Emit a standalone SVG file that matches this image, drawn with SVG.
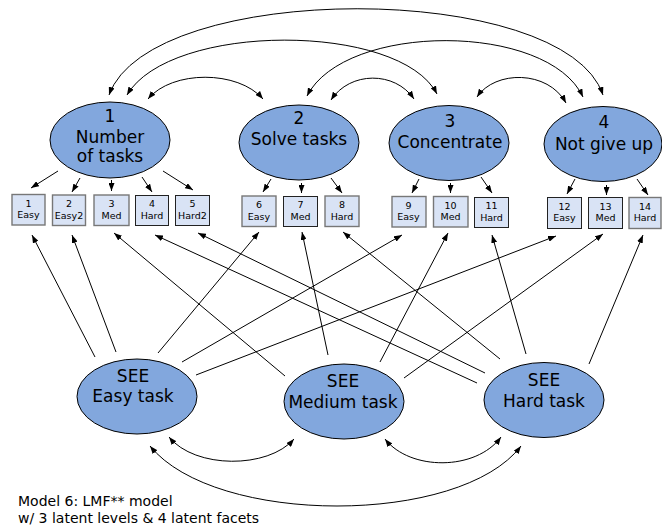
<svg xmlns="http://www.w3.org/2000/svg" width="662" height="529" viewBox="0 0 662 529">
<style>
.lat{fill:#82a7dd;stroke:#000;stroke-width:1}
.box{fill:#d9e3f5;stroke:#222;stroke-width:1}
.boxg{fill:#d9e3f5;stroke:#777;stroke-width:1.4}
.lt{font-family:"DejaVu Sans",sans-serif;font-size:17px;text-anchor:middle;fill:#000}
.bt{font-family:"DejaVu Sans",sans-serif;font-size:9.5px;text-anchor:middle;fill:#000}
.nt{font-family:"DejaVu Sans",sans-serif;font-size:14px;fill:#000}
.c{fill:none;stroke:#000;stroke-width:1}
.a{marker-end:url(#ah)}
.d{marker-start:url(#ahs);marker-end:url(#ah)}
</style>
<defs>
<marker id="ah" viewBox="0 0 8 6" refX="8" refY="3" markerWidth="8" markerHeight="6" markerUnits="userSpaceOnUse" orient="auto"><path d="M0,0 L8,3 L0,6 z" fill="#000"/></marker>
<marker id="ahs" viewBox="0 0 8 6" refX="8" refY="3" markerWidth="8" markerHeight="6" markerUnits="userSpaceOnUse" orient="auto-start-reverse"><path d="M0,0 L8,3 L0,6 z" fill="#000"/></marker>
</defs>

<g id="connectors">
<!-- covariances among facets -->
<path class="c d" d="M109,95 C150,-20 565,-20 603,95"/>
<path class="c d" d="M127,95 C170,22 400,22 437,94"/>
<path class="c d" d="M307,96 C345,22 548,22 583,97"/>
<path class="c d" d="M148,99 C172,70 238,70 263,99"/>
<path class="c d" d="M331,100 C350,71 395,71 414,99"/>
<path class="c d" d="M477,97 C495,70 548,70 566,103"/>
<!-- covariances among levels -->
<path class="c d" d="M169,437 C195,469 268,469 294,439"/>
<path class="c d" d="M385,439 C410,471 476,471 501,437"/>
<path class="c d" d="M150,446 C215,526 460,526 521,446"/>
<!-- facet loadings -->
<line class="c a" x1="58" y1="171" x2="31" y2="188"/>
<line class="c a" x1="80" y1="178" x2="72" y2="192"/>
<line class="c a" x1="111.5" y1="180" x2="111.5" y2="191"/>
<line class="c a" x1="142" y1="177" x2="152" y2="192"/>
<line class="c a" x1="163" y1="171" x2="193" y2="190"/>
<line class="c a" x1="271" y1="179" x2="263" y2="192"/>
<line class="c a" x1="301.5" y1="183" x2="301.5" y2="193"/>
<line class="c a" x1="331" y1="178" x2="342" y2="193"/>
<line class="c a" x1="419" y1="179" x2="412" y2="193"/>
<line class="c a" x1="450.5" y1="183" x2="450.5" y2="193"/>
<line class="c a" x1="481" y1="177" x2="492" y2="193"/>
<line class="c a" x1="575" y1="179" x2="567" y2="194"/>
<line class="c a" x1="606.5" y1="185" x2="606.5" y2="195"/>
<line class="c a" x1="637" y1="179" x2="648" y2="195"/>
<!-- level loadings -->
<line class="c a" x1="95" y1="357" x2="32" y2="235"/>
<line class="c a" x1="116" y1="352" x2="72" y2="235"/>
<line class="c a" x1="158" y1="353" x2="259" y2="232"/>
<line class="c a" x1="182" y1="362" x2="402" y2="235"/>
<line class="c a" x1="196" y1="375" x2="556" y2="236"/>
<line class="c a" x1="285" y1="376" x2="114" y2="233"/>
<line class="c a" x1="328" y1="355" x2="302" y2="232"/>
<line class="c a" x1="380" y1="362" x2="448" y2="233"/>
<line class="c a" x1="404" y1="378" x2="603" y2="234"/>
<line class="c a" x1="477" y1="383" x2="155" y2="235"/>
<line class="c a" x1="485" y1="373" x2="198" y2="233"/>
<line class="c a" x1="500" y1="359" x2="343" y2="232"/>
<line class="c a" x1="526" y1="354" x2="492" y2="235"/>
<line class="c a" x1="589" y1="364" x2="643" y2="235"/>
</g>

<g id="f1"><ellipse class="lat" cx="110" cy="140" rx="60" ry="38"/><text class="lt" x="110" y="121.5">1</text><text class="lt" x="110" y="142.5">Number</text><text class="lt" x="110" y="162">of tasks</text></g>
<g id="f2"><ellipse class="lat" cx="299" cy="142.5" rx="60" ry="37.5"/><text class="lt" x="299" y="124">2</text><text class="lt" x="299" y="145">Solve tasks</text></g>
<g id="f3"><ellipse class="lat" cx="449" cy="143" rx="60" ry="37.5"/><text class="lt" x="450" y="126.5">3</text><text class="lt" x="450" y="148">Concentrate</text></g>
<g id="f4"><ellipse class="lat" cx="603" cy="144" rx="59" ry="37.5"/><text class="lt" x="604" y="127.5">4</text><text class="lt" x="604" y="150">Not give up</text></g>

<g id="seeEasy"><ellipse class="lat" cx="137" cy="396.5" rx="60" ry="37.5"/><text class="lt" x="133" y="381.5">SEE</text><text class="lt" x="133" y="402">Easy task</text></g>
<g id="seeMedium"><ellipse class="lat" cx="344" cy="401.5" rx="60" ry="37.5"/><text class="lt" x="343" y="387">SEE</text><text class="lt" x="343" y="408">Medium task</text></g>
<g id="seeHard"><ellipse class="lat" cx="544" cy="400" rx="60" ry="37.5"/><text class="lt" x="544" y="386">SEE</text><text class="lt" x="544" y="406.5">Hard task</text></g>

<g id="b1"><rect class="boxg" x="12" y="194.5" width="33" height="30.5"/><text class="bt" x="28.5" y="206.5">1</text><text class="bt" x="28.5" y="218">Easy</text></g>
<g id="b2"><rect class="boxg" x="52.5" y="195" width="33" height="30.5"/><text class="bt" x="69" y="207">2</text><text class="bt" x="69" y="218.5">Easy2</text></g>
<g id="b3"><rect class="boxg" x="94" y="195" width="35" height="30.5"/><text class="bt" x="111.5" y="207">3</text><text class="bt" x="111.5" y="218.5">Med</text></g>
<g id="b4"><rect class="box" x="135.5" y="195.5" width="33" height="30"/><text class="bt" x="152" y="207">4</text><text class="bt" x="152" y="218.5">Hard</text></g>
<g id="b5"><rect class="box" x="175.5" y="195.5" width="34" height="30"/><text class="bt" x="192.5" y="207">5</text><text class="bt" x="192.5" y="218.5">Hard2</text></g>
<g id="b6"><rect class="boxg" x="242" y="196" width="34" height="30.5"/><text class="bt" x="259" y="208">6</text><text class="bt" x="259" y="219.5">Easy</text></g>
<g id="b7"><rect class="box" x="283.5" y="196.5" width="34" height="30"/><text class="bt" x="300.5" y="208">7</text><text class="bt" x="300.5" y="219.5">Med</text></g>
<g id="b8"><rect class="boxg" x="325" y="196" width="34" height="30.5"/><text class="bt" x="342" y="208">8</text><text class="bt" x="342" y="219.5">Hard</text></g>
<g id="b9"><rect class="boxg" x="392" y="196.5" width="34" height="30.5"/><text class="bt" x="408.5" y="208.5">9</text><text class="bt" x="408.5" y="220">Easy</text></g>
<g id="b10"><rect class="boxg" x="433.5" y="196.5" width="34.5" height="30.5"/><text class="bt" x="450.5" y="208.5">10</text><text class="bt" x="450.5" y="220">Med</text></g>
<g id="b11"><rect class="box" x="474.5" y="197.5" width="34" height="30"/><text class="bt" x="491.5" y="209">11</text><text class="bt" x="491.5" y="220.5">Hard</text></g>
<g id="b12"><rect class="box" x="547.5" y="197.5" width="34" height="31"/><text class="bt" x="564.5" y="209.5">12</text><text class="bt" x="564.5" y="221">Easy</text></g>
<g id="b13"><rect class="box" x="588.5" y="197.5" width="34" height="31"/><text class="bt" x="605.5" y="209.5">13</text><text class="bt" x="605.5" y="221">Med</text></g>
<g id="b14"><rect class="boxg" x="629" y="197.5" width="32" height="31"/><text class="bt" x="645" y="209.5">14</text><text class="bt" x="645" y="221">Hard</text></g>

<g id="note"><text class="nt" x="18" y="506">Model 6: LMF** model</text><text class="nt" x="18" y="523">w/ 3 latent levels &amp; 4 latent facets</text></g>
</svg>
